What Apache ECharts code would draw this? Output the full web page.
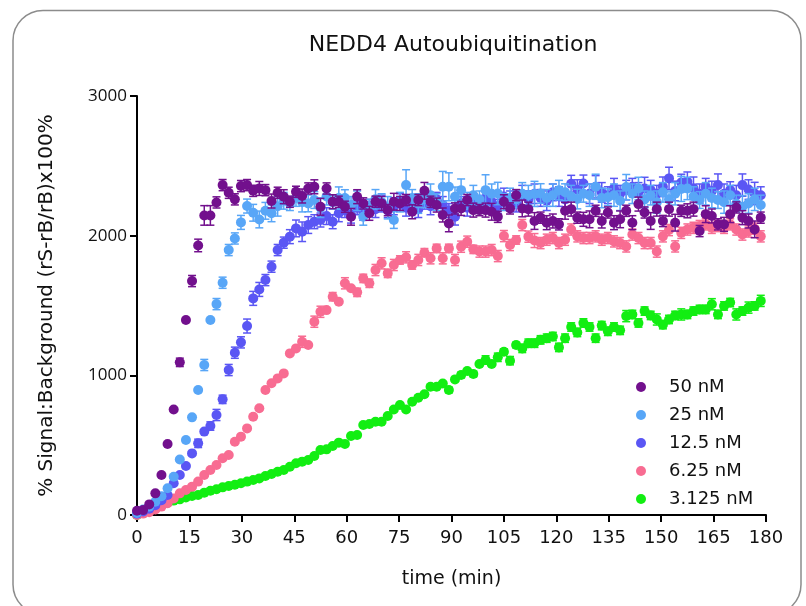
<!DOCTYPE html>
<html><head><meta charset="utf-8">
<script src="https://cdn.jsdelivr.net/npm/echarts@6/dist/echarts.min.js"></script>
<style>html,body{margin:0;padding:0;background:#fff}#c{width:806px;height:606px}</style>
</head><body><div id="c"></div>
<script>
// sampling interval (min)
const stepMin = 1.75;
const seriesNames = ['50 nM', '25 nM', '12.5 nM', '6.25 nM', '3.125 nM'];
const xTickLabels = [0, 15, 30, 45, 60, 75, 90, 105, 120, 135, 150, 165, 180];
const yTickLabels = [0, 1000, 2000, 3000];

const v50 = [
  30,35,76,155,286,508,756,1093,1396,1675,
  1930,2145,2145,2238,2362,2307,2260,2355,2362,2321,
  2338,2326,2248,2307,2279,2243,2314,2284,2338,2350,
  2207,2338,2243,2243,2207,2135,2279,2231,2160,2243,
  2231,2183,2243,2231,2255,2171,2255,2321,2243,2219,
  2148,2088,2195,2195,2255,2183,2183,2183,2171,2135,
  2243,2195,2290,2195,2190,2105,2129,2093,2105,2081,
  2178,2190,2129,2117,2117,2178,2105,2166,2093,2117,
  2178,2093,2226,2166,2105,2190,2105,2190,2093,2178,
  2178,2190,2033,2154,2141,2081,2081,2154,2202,2129,
  2105,2045,2129];
const v25 = [
  15,40,60,95,135,191,274,398,537,699,
  895,1074,1396,1510,1663,1897,1980,2095,2212,2164,
  2116,2178,2160,2210,2250,2230,2270,2240,2231,2255,
  2200,2280,2240,2269,2269,2220,2250,2135,2210,2260,
  2240,2200,2112,2240,2362,2270,2230,2260,2290,2240,
  2350,2350,2278,2326,2250,2290,2260,2326,2300,2302,
  2240,2270,2260,2300,2290,2299,2302,2270,2290,2326,
  2311,2280,2262,2300,2290,2350,2270,2275,2290,2250,
  2348,2300,2338,2260,2290,2240,2310,2260,2300,2335,
  2338,2280,2255,2300,2270,2255,2240,2290,2230,2207,
  2231,2260,2220];
const v12 = [
  10,25,45,70,105,143,227,286,351,441,
  513,597,637,716,828,1038,1162,1236,1353,1551,
  1615,1682,1778,1897,1950,1993,2052,2028,2076,2100,
  2112,2140,2100,2160,2180,2150,2200,2170,2210,2190,
  2230,2180,2210,2250,2200,2230,2190,2240,2210,2260,
  2220,2180,2136,2230,2200,2250,2220,2270,2240,2210,
  2280,2250,2230,2290,2260,2300,2270,2250,2310,2280,
  2260,2372,2330,2374,2300,2350,2310,2290,2340,2300,
  2326,2350,2310,2338,2326,2300,2350,2410,2320,2380,
  2386,2340,2300,2350,2320,2362,2300,2326,2290,2362,
  2330,2302,2290];
const v6 = [
  0,10,20,40,60,84,119,155,179,203,
  239,286,322,358,406,430,525,561,620,704,
  764,895,943,978,1014,1157,1193,1240,1217,1384,
  1455,1467,1563,1527,1659,1623,1594,1694,1659,1754,
  1802,1730,1790,1826,1845,1790,1826,1878,1838,1909,
  1838,1909,1826,1921,1957,1902,1886,1886,1897,1854,
  1997,1933,1969,2076,1993,1965,1947,1971,1983,1947,
  1971,2044,1995,1983,1983,1995,1971,1983,1959,1947,
  1923,2008,1983,1947,1947,1886,1995,2040,1923,2020,
  2044,2056,2069,2081,2056,2069,2056,2081,2044,2008,
  2030,2050,1995];
const v3 = [
  0,20,40,55,72,88,103,112,126,136,
  143,160,174,184,198,208,217,227,239,251,
  262,279,293,310,322,346,370,382,394,422,
  465,470,494,518,509,565,573,644,651,668,
  668,709,756,787,756,811,840,864,918,918,
  942,895,971,1002,1031,1010,1081,1110,1081,1129,
  1169,1105,1217,1193,1230,1230,1254,1266,1278,1200,
  1266,1346,1307,1375,1346,1266,1356,1315,1346,1322,
  1424,1436,1375,1460,1429,1400,1363,1400,1429,1436,
  1436,1460,1472,1472,1509,1436,1497,1521,1436,1460,
  1485,1497,1533];

// error bar half-heights (SEM)
const e50 = [
  0,0,0,0,0,0,0,30,0,40,
  45,70,70,40,40,40,40,40,40,40,
  50,40,50,40,50,40,40,50,40,50,
  60,40,50,40,40,60,50,40,50,40,
  50,40,60,50,40,50,40,60,40,50,
  50,60,40,50,40,50,40,50,60,40,
  50,40,40,60,50,60,40,50,50,40,
  60,50,40,50,60,40,50,40,50,60,
  40,50,50,40,60,50,40,50,60,40,
  50,50,40,60,50,40,50,60,40,50,
  50,60,40];
const e25 = [
  0,0,0,0,0,0,0,0,0,0,
  0,40,0,40,40,40,40,50,50,60,
  60,60,60,70,60,50,60,70,60,60,
  70,60,50,80,60,60,70,60,50,70,
  60,80,60,70,110,60,70,60,80,60,
  110,100,70,80,60,70,60,110,70,80,
  60,70,60,80,70,90,70,60,80,70,
  60,80,70,60,80,90,70,60,80,70,
  90,70,80,60,70,80,70,60,80,90,
  80,70,60,80,70,60,80,70,60,80,
  70,80,70];
const e12 = [
  0,0,0,0,0,0,0,0,0,0,
  30,0,30,40,30,40,40,40,50,50,
  50,40,40,40,40,50,60,70,60,50,
  50,60,50,60,50,60,50,60,50,60,
  60,50,60,50,60,50,60,50,60,50,
  60,50,60,50,60,50,60,50,60,50,
  60,70,60,70,60,70,60,70,60,70,
  70,60,70,60,70,80,70,60,70,60,
  70,60,70,80,70,60,70,80,70,60,
  70,80,70,60,70,80,70,60,70,80,
  70,80,60];
const e6 = [
  0,0,0,0,0,0,0,0,0,0,
  0,0,0,0,0,0,0,0,0,0,
  0,0,0,0,0,0,0,40,0,40,
  40,0,30,0,40,0,30,30,30,40,
  40,30,40,30,40,30,40,30,40,30,
  40,30,40,40,40,30,40,40,40,40,
  40,40,30,40,40,50,40,40,40,40,
  40,40,40,40,40,40,40,40,40,40,
  40,40,40,40,40,40,40,40,40,40,
  40,40,40,40,40,40,40,40,40,40,
  40,40,40];
const e3 = [
  0,0,0,0,0,0,0,0,0,0,
  0,0,0,0,0,0,0,0,0,0,
  0,0,0,0,0,0,0,0,0,0,
  0,0,0,0,0,0,0,0,0,0,
  0,0,0,0,0,0,0,0,0,0,
  0,20,0,20,0,20,0,30,0,30,
  20,30,20,30,30,30,30,30,30,30,
  30,30,30,30,30,30,30,30,30,30,
  40,30,30,30,30,40,30,30,30,40,
  30,30,30,30,40,30,30,30,40,30,
  40,30,40];

const colors = ['#72108d', '#58a6f7', '#5a56f4', '#f86c92', '#12ee12'];
const values = [v50, v25, v12, v6, v3];
const errors = [e50, e25, e12, e6, e3];

function pts(v) { return v.map((y, i) => [i * stepMin, y]); }
function errPts(v, e) { return v.map((y, i) => [i * stepMin, y, e[i] || 0]); }

function renderErr(params, api) {
  const x = api.value(0), y = api.value(1), e = api.value(2);
  if (!e) return null;
  const top = api.coord([x, y + e]);
  const bot = api.coord([x, y - e]);
  const hw = 4;
  const style = { stroke: api.visual('color'), lineWidth: 1.5, fill: null };
  return {
    type: 'group',
    children: [
      { type: 'line', shape: { x1: top[0], y1: top[1], x2: bot[0], y2: bot[1] }, style: style },
      { type: 'line', shape: { x1: top[0] - hw, y1: top[1], x2: top[0] + hw, y2: top[1] }, style: style },
      { type: 'line', shape: { x1: bot[0] - hw, y1: bot[1], x2: bot[0] + hw, y2: bot[1] }, style: style }
    ]
  };
}

const series = [];
// draw order: 3.125 at bottom, 50 nM on top
const order = [4, 3, 2, 1, 0];
order.forEach((k, n) => {
  series.push({
    name: seriesNames[k] + ' err',
    type: 'custom',
    renderItem: renderErr,
    data: errPts(values[k], errors[k]),
    encode: { x: 0, y: 1 },
    itemStyle: { color: colors[k] },
    z: 2 + n * 2,
    silent: true,
    animation: false
  });
  series.push({
    name: seriesNames[k],
    type: 'scatter',
    symbol: 'circle',
    symbolSize: 10,
    data: pts(values[k]),
    itemStyle: { color: colors[k], opacity: 1 },
    z: 3 + n * 2,
    animation: false
  });
});

const chart = echarts.init(document.getElementById('c'), null, { renderer: 'canvas' });
const FONT = 'DejaVu Sans';
chart.setOption({
  backgroundColor: '#ffffff',
  animation: false,
  title: {
    text: 'NEDD4 Autoubiquitination',
    left: 448, top: 29, textAlign: 'center',
    textStyle: { fontFamily: FONT, fontSize: 22, fontWeight: 'normal', color: '#111' }
  },
  graphic: [{
    type: 'rect', z: -10, silent: true,
    shape: { x: 13, y: 10.5, width: 788, height: 604, r: 30 },
    style: { fill: 'none', stroke: '#8c8c8c', lineWidth: 1.5 }
  }],
  legend: {
    data: seriesNames,
    orient: 'vertical',
    left: 631, top: 373,
    itemWidth: 10, itemHeight: 10, itemGap: 10,
    icon: 'circle',
    textStyle: { fontFamily: FONT, fontSize: 18, color: '#111', lineHeight: 18, padding: [0, 0, 0, 18] }
  },
  grid: { left: 137, right: 40, top: 96, bottom: 91, containLabel: false },
  xAxis: {
    type: 'value', min: 0, max: 180, interval: 15,
    name: 'time (min)', nameLocation: 'middle', nameGap: 55,
    nameTextStyle: { fontFamily: FONT, fontSize: 19, color: '#111' },
    axisLine: { show: true, onZero: false, lineStyle: { color: '#000', width: 2 } },
    axisTick: { show: true, inside: false, length: 7, lineStyle: { color: '#000', width: 2 } },
    axisLabel: { margin: 14, fontFamily: FONT, fontSize: 18, color: '#111',
      formatter: v => xTickLabels.includes(v) ? String(v) : '' },
    splitLine: { show: false }
  },
  yAxis: {
    type: 'value', min: 0, max: 3000, interval: 1000,
    name: '% Signal:Background (rS-rB/rB)x100%', nameLocation: 'middle', nameGap: 80, nameRotate: 90,
    nameTextStyle: { fontFamily: FONT, fontSize: 20, color: '#111' },
    axisLine: { show: true, onZero: false, lineStyle: { color: '#000', width: 2 } },
    axisTick: { show: true, inside: false, length: 7, lineStyle: { color: '#000', width: 2 } },
    axisLabel: { margin: 10, fontFamily: 'Open Sans', fontSize: 17, color: '#111',
      formatter: v => yTickLabels.includes(v) ? String(v) : '' },
    splitLine: { show: false }
  },
  series: series
});
</script>
</body></html>
